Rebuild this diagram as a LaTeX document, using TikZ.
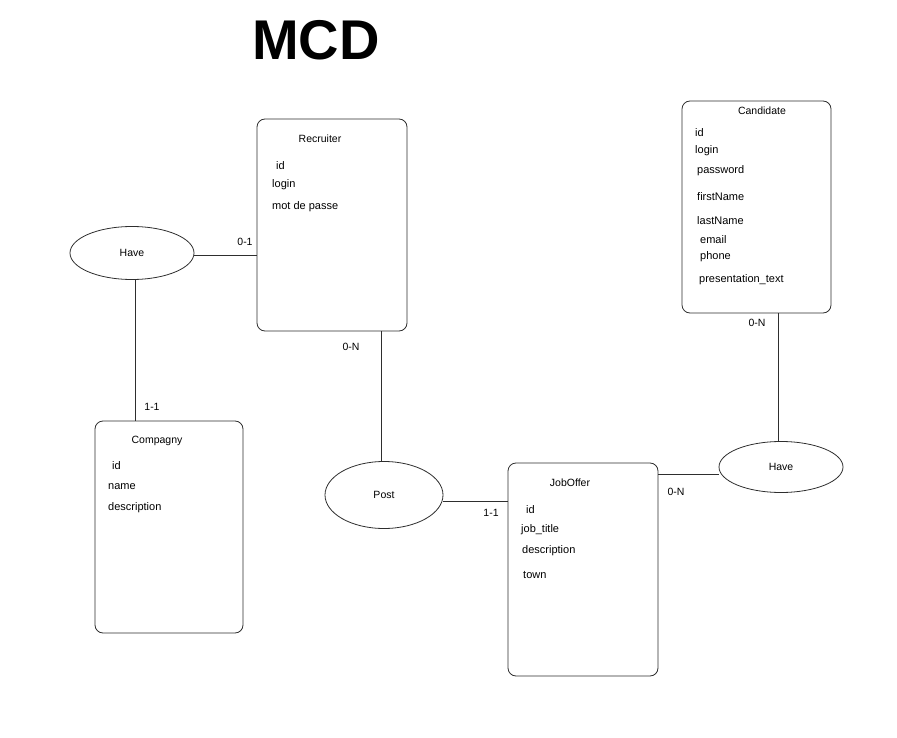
\documentclass[tikz,border=0pt]{standalone}
\usepackage{fontspec}
\setmainfont{Liberation Sans}
\usetikzlibrary{shapes.geometric, positioning}
\definecolor{InkGray}{HTML}{2E2E2E}

\begin{document}
\begin{tikzpicture}[x=1pt, y=-1pt,
    entity/.style={draw=InkGray, line width=0.8pt, rounded corners=8pt, minimum width=#1, minimum height=212pt, inner sep=0pt},
    relation/.style={draw=InkGray, line width=0.8pt, ellipse, inner sep=0pt, font=\fontsize{10.5}{12}\selectfont},
    attr/.style={anchor=west, inner sep=0pt, font=\fontsize{11}{13}\selectfont},
    etitle/.style={inner sep=0pt, font=\fontsize{10.5}{12}\selectfont},
    card/.style={inner sep=0pt, font=\fontsize{10.5}{12}\selectfont},
    link/.style={draw=InkGray, line width=0.8pt}]
  \useasboundingbox (0,0) rectangle (897,738);

  % Title
  \node[font=\fontsize{56}{60}\selectfont\bfseries] (title) at (316,40) {MCD};

  % Entities
  \node[entity=150pt] (recruiter) at (332,225) {};
  \node[entity=148pt] (compagny) at (169,527) {};
  \node[entity=150pt, minimum height=213pt] (joboffer) at (583,569.5) {};
  \node[entity=149pt] (candidate) at (756.5,207) {};

  % Relations
  \node[relation, minimum width=124pt, minimum height=53pt] (haveL) at (132,253) {Have};
  \node[relation, minimum width=118pt, minimum height=67pt] (post) at (384,495) {Post};
  \node[relation, minimum width=124pt, minimum height=51pt] (haveR) at (781,467) {Have};

  % Recruiter attributes
  \node[etitle] (recruiter-title) at (320,139) {Recruiter};
  \node[attr] (recruiter-id) at (276,166) {id};
  \node[attr] (recruiter-login) at (272,185) {login};
  \node[attr] (recruiter-mdp) at (272,207) {mot de passe};

  % Compagny attributes
  \node[etitle] (compagny-title) at (157,441) {Compagny};
  \node[attr] (compagny-id) at (112,466) {id};
  \node[attr] (compagny-name) at (108,487) {name};
  \node[attr] (compagny-desc) at (108,508) {description};

  % JobOffer attributes
  \node[etitle] (joboffer-title) at (570,483) {JobOffer};
  \node[attr] (joboffer-id) at (526,510) {id};
  \node[attr] (joboffer-jobtitle) at (521,530) {job\_title};
  \node[attr] (joboffer-desc) at (522,551) {description};
  \node[attr] (joboffer-town) at (523,575) {town};

  % Candidate attributes
  \node[etitle] (candidate-title) at (762,111) {Candidate};
  \node[attr] (candidate-id) at (695,133) {id};
  \node[attr] (candidate-login) at (695,151) {login};
  \node[attr] (candidate-password) at (697,171) {password};
  \node[attr] (candidate-firstname) at (697,197) {firstName};
  \node[attr] (candidate-lastname) at (697,221) {lastName};
  \node[attr] (candidate-email) at (700,240) {email};
  \node[attr] (candidate-phone) at (700,257) {phone};
  \node[attr] (candidate-text) at (699,280) {presentation\_text};

  % Links
  \draw[link] ([yshift=-2pt]haveL.east) -- ([yshift=-2pt]haveL.east -| recruiter.west);
  \draw[link] ([xshift=3pt]haveL.south) -- ([xshift=3pt]haveL.south |- compagny.north);
  \draw[link] ([xshift=-3pt]post.north |- recruiter.south) -- ([xshift=-3pt]post.north);
  \draw[link] ([yshift=-6pt]post.east) -- ([yshift=-6pt]post.east -| joboffer.west);
  \draw[link] ([yshift=-7pt]haveR.west) -- ([yshift=-7pt]haveR.west -| joboffer.east);
  \draw[link] ([xshift=-3pt]haveR.north) -- ([xshift=-3pt]haveR.north |- candidate.south);

  % Cardinalities
  \node[card] (card-rec-have) at (245,242) {0-1};
  \node[card] (card-comp-have) at (152,407) {1-1};
  \node[card] (card-rec-post) at (351,347) {0-N};
  \node[card] (card-job-post) at (491,513) {1-1};
  \node[card] (card-job-have) at (676,492) {0-N};
  \node[card] (card-cand-have) at (757,323) {0-N};
\end{tikzpicture}
\end{document}
